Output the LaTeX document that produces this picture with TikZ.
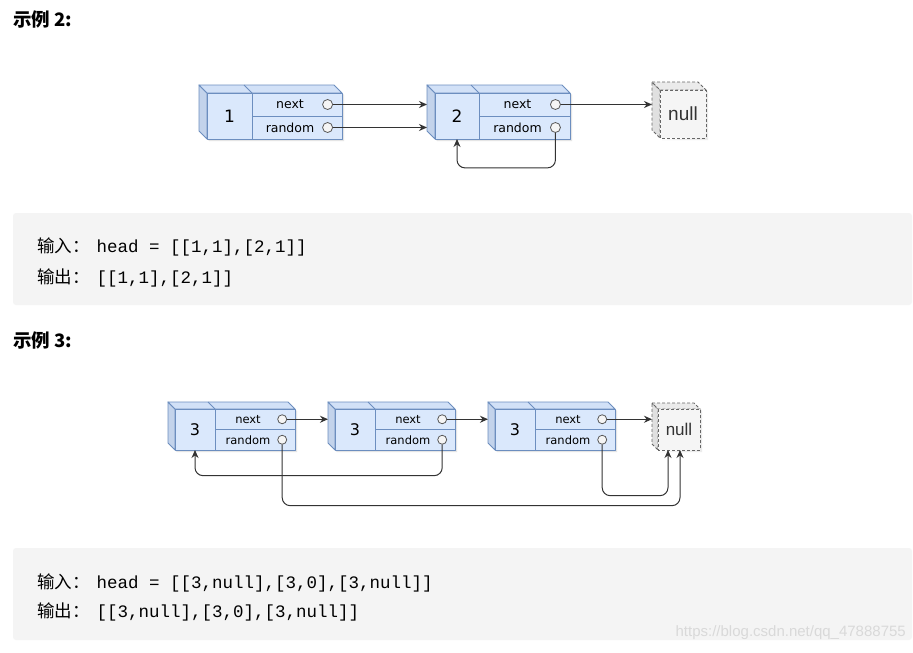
\documentclass[tikz,border=0pt]{standalone}
\usepackage{fontspec}
\setmainfont{Liberation Sans}
\newfontfamily\cjk{Noto Sans CJK SC}
\newfontfamily\mono{Liberation Mono}
\newfontfamily\fieldfont{DejaVu Sans}
\usetikzlibrary{arrows.meta}
\definecolor{boxfill}{HTML}{DAE8FC}
\definecolor{boxline}{HTML}{6C8EBF}
\definecolor{boxside}{HTML}{C3D3EB}
\definecolor{boxtop}{HTML}{D2E1F7}
\definecolor{nullfill}{HTML}{F5F5F5}
\definecolor{nullline}{HTML}{666666}
\definecolor{nullside}{HTML}{E0E0E0}
\definecolor{nulltop}{HTML}{EBEBEB}
\definecolor{codebg}{HTML}{F4F4F4}
\definecolor{wire}{HTML}{333333}

% list node: name, left, top, right, bottom, divider, depth, value
\newcommand{\listnode}[8]{
  \fill[black!10] (#2-#7+2,#5-#7+2) -- (#2+2,#5+2) -- (#4+2,#5+2) -- (#4+2,#3+2) -- (#4,#3) -- (#4,#5) -- (#2,#5) -- cycle;
  \filldraw[cubeline, fill=boxside] (#2-#7,#3-#7) -- (#2,#3) -- (#2,#5) -- (#2-#7,#5-#7) -- cycle;
  \filldraw[cubeline, fill=boxtop] (#2-#7,#3-#7) -- (#4-#7,#3-#7) -- (#4,#3) -- (#2,#3) -- cycle;
  \draw[cubeline] (#6-#7,#3-#7) -- (#6,#3);
  \filldraw[cubeline, fill=boxfill] (#2,#3) rectangle (#4,#5);
  \draw[cubeline] (#6,#3) -- (#6,#5) (#6,{(#3+#5)/2}) -- (#4,{(#3+#5)/2});
  \node[valtext] (#1) at ({(#2+#6)/2},{(#3+#5)/2}) {#8};
  \node[fieldtext] (#1nt) at ({(#6+#4)/2-7},{(3*#3+#5)/4}) {next};
  \node[fieldtext] (#1rt) at ({(#6+#4)/2-7},{(#3+3*#5)/4}) {random};
  \node[port] (#1n) at ({#6+0.84*(#4-#6)},{(3*#3+#5)/4}) {};
  \node[port] (#1r) at ({#6+0.84*(#4-#6)},{(#3+3*#5)/4}) {};
  \coordinate (#1in) at (#2-#7,{(#3+#5)/2});
  \coordinate (#1bot) at ({(#2+#6)/2},#5);
}
% null box: name, left, top, right, bottom, depth
\newcommand{\nullnode}[6]{
  \fill[black!8] (#2+2,#5+2) -- (#4+2,#5+2) -- (#4+2,#3+2) -- (#4,#3) -- (#4,#5) -- cycle;
  \filldraw[nullline, fill=nullside] (#2-#6,#3-#6) -- (#2,#3) -- (#2,#5) -- (#2-#6,#5-#6) -- cycle;
  \filldraw[nullline, fill=nulltop] (#2-#6,#3-#6) -- (#4-#6,#3-#6) -- (#4,#3) -- (#2,#3) -- cycle;
  \filldraw[nullline, fill=nullfill] (#2,#3) rectangle (#4,#5);
  \node[nulltext] (#1) at ({(#2+#4)/2},{(#3+#5)/2}) {null};
  \coordinate (#1in) at (#2-#6,{(#3+#5)/2});
}

\begin{document}
\begin{tikzpicture}[x=1pt, y=-1pt]
       \tikzstyle{cubeline}=[draw=boxline, line width=0.9pt, line join=round]
       \tikzstyle{nullline}=[draw=nullline, line width=0.9pt, dashed, dash pattern=on 3pt off 2pt]
       \tikzstyle{valtext}=[font=\fieldfont\fontsize{17}{18}\selectfont, inner sep=0]
       \tikzstyle{fieldtext}=[font=\fieldfont\fontsize{12.5}{13}\selectfont, inner sep=0]
       \tikzstyle{nulltext}=[font=\fontsize{19}{20}\selectfont, text=black!80, inner sep=0]
       \tikzstyle{port}=[circle, draw=black!65, fill=black!4, line width=0.8pt, inner sep=0, minimum size=10pt]
       \tikzstyle{link}=[draw=wire, line width=1pt, -{Stealth[length=8pt,width=7pt]}]
       \tikzstyle{heading}=[font=\cjk\bfseries\fontsize{18.5}{20}\selectfont, anchor=base west, inner sep=0]
       \tikzstyle{codeline}=[font=\mono\fontsize{17.5}{20}\selectfont, anchor=base west, inner sep=0]
       \tikzstyle{codebox}=[fill=codebg, rounded corners=3pt]
       \useasboundingbox (0,0) rectangle (913,653);
       \fill[white] (0,0) rectangle (913,653);

       % example 2
       \node[heading] (h2) at (13,27) {示例 2:};
       \listnode{n1}{207}{93}{342}{139}{252}{8}{1}
       \listnode{n2}{435}{93}{570}{139}{479}{8}{2}
       \nullnode{z2}{660}{90}{706}{138}{8}
       \draw[link] (n1n) -- (n1n -| n2in);
       \draw[link] (n1r) -- (n1r -| n2in);
       \draw[link] (n2n) -- (n2n -| z2in);
       \draw[link, rounded corners=8pt] (n2r.south) -- ++(0,35) -| (n2bot);

       \path[codebox] (13,213) rectangle (912,305);
       \node[codeline] (in2) at (37,252) {{\cjk 输入：}\hspace{7pt}head = [[1,1],[2,1]]};
       \node[codeline] (out2) at (37,283) {{\cjk 输出：}\hspace{7pt}[[1,1],[2,1]]};

       % example 3
       \node[heading] (h3) at (13,347) {示例 3:};
       \tikzstyle{fieldtext}=[font=\fieldfont\fontsize{11.5}{12}\selectfont, inner sep=0]
       \tikzstyle{valtext}=[font=\fieldfont\fontsize{16}{17}\selectfont, inner sep=0]
       \tikzstyle{port}=[circle, draw=black!65, fill=black!4, line width=0.8pt, inner sep=0, minimum size=9pt]
       \tikzstyle{nulltext}=[font=\fontsize{17}{18}\selectfont, text=black!80, inner sep=0]
       \listnode{a}{175}{409}{295}{450}{215}{7}{3}
       \listnode{b}{335}{409}{455}{450}{375}{7}{3}
       \listnode{c}{495}{409}{615}{450}{535}{7}{3}
       \nullnode{z3}{658}{409}{700}{450}{6}
       \coordinate (z3l) at (668,450);
       \coordinate (z3r) at (680,450);
       \draw[link] (an) -- (an -| bin);
       \draw[link] (bn) -- (bn -| cin);
       \draw[link] (cn) -- (cn -| z3in);
       \draw[link, rounded corners=8pt] (br.south) -- ++(0,31) -| (abot);
       \draw[link, rounded corners=8pt] (cr.south) -- ++(0,51) -| (z3l);
       \draw[link, rounded corners=8pt] (ar.south) -- ++(0,61) -| (z3r);

       \path[codebox] (13,548) rectangle (912,640);
       \node[codeline] (in3) at (37,588) {{\cjk 输入：}\hspace{7pt}head = [[3,null],[3,0],[3,null]]};
       \node[codeline] (out3) at (37,617) {{\cjk 输出：}\hspace{7pt}[[3,null],[3,0],[3,null]]};
       \node[font=\fontsize{15}{16}\selectfont, text=black!15, anchor=east, inner sep=0] (wm) at (906,633) {https://blog.csdn.net/qq\_47888755};
      \end{tikzpicture}
\end{document}
